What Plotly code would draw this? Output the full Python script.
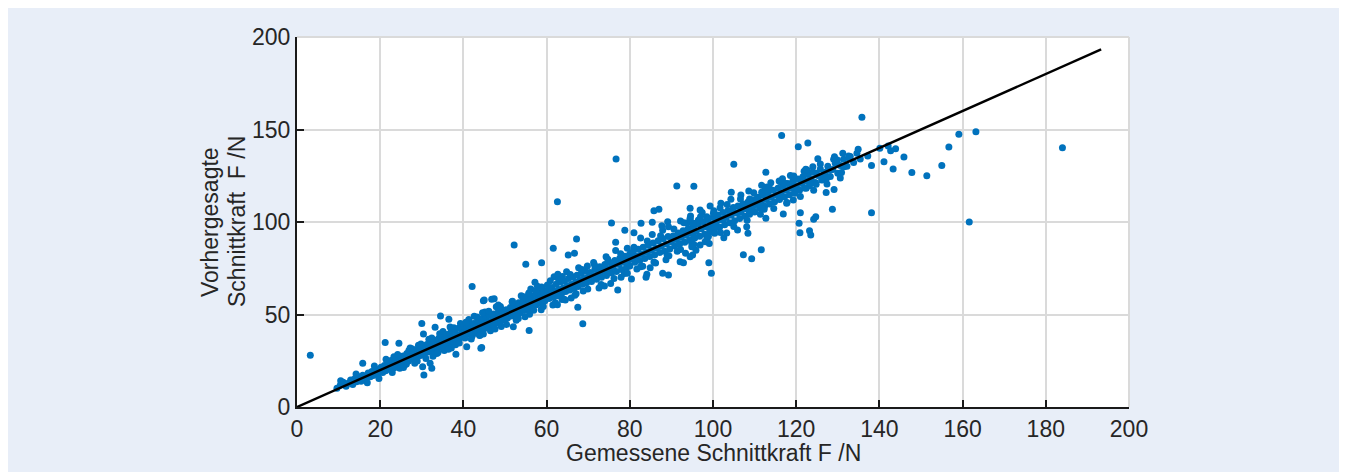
import plotly.graph_objects as go

# ---------------- data ----------------
core_points = [
    (9.6,10.2),(10.4,11.8),(11.1,13.4),(11.8,11.2),(12.3,12.9),(12.9,14.6),(13.4,12.1),(13.8,15.2),(14.3,13.6),(14.9,16.3),(15.4,13.9),(15.8,17.1),(16.2,15.4),(16.7,16.2),(17.1,18.4),(17.6,16.3),(18.0,19.2),(18.3,17.0),(18.8,18.6),(19.2,20.3),(19.5,17.8),(19.9,19.4),(20.2,21.5),(20.6,18.7),(17.3,17.7),(15.1,14.8),(13.1,13.4),(11.5,12.2),
    (21.0,22.4),(21.3,19.6),(21.7,21.1),(22.1,23.6),(22.4,20.3),(22.8,22.7),(23.1,24.6),(23.4,21.2),(23.7,25.3),(24.0,22.6),(24.3,24.1),(24.6,26.4),(24.9,23.0),(25.2,25.7),(25.5,27.6),(25.8,24.1),(26.1,26.3),(26.4,28.9),(26.8,24.9),(27.1,27.4),(27.4,29.3),(27.8,25.8),(28.1,28.2),(28.4,30.9),(28.7,26.7),(29.1,29.3),(29.4,31.8),(29.7,27.9),(30.0,30.1),(22.6,25.1),(26.9,30.6),(28.9,24.8),(24.7,20.9),(25.9,22.7),(27.6,31.5),(23.3,27.2),(29.2,33.4),(21.8,24.6),(26.3,23.3),
    (30.3,32.6),(30.6,28.3),(30.9,31.1),(31.2,33.8),(31.5,29.7),(31.9,31.9),(32.2,34.9),(32.5,30.4),(32.8,32.8),(33.1,36.1),(33.4,31.2),(33.8,33.6),(34.1,37.2),(34.4,32.3),(34.7,34.9),(35.0,38.3),(35.3,33.1),(35.7,35.6),(36.0,39.2),(36.3,33.8),(36.6,36.7),(36.9,40.1),(37.3,35.2),(37.6,37.5),(37.9,41.4),(38.2,36.3),(38.5,38.4),(38.8,42.6),(39.1,37.1),(39.5,39.6),(39.8,43.2),(31.7,36.6),(33.6,28.9),(35.4,30.6),(36.8,43.3),(34.3,39.6),(38.1,33.7),(32.7,27.4),(39.3,45.1),(37.1,31.9),
    (40.1,40.2),(40.4,37.3),(40.8,42.8),(41.1,39.6),(41.4,44.1),(41.8,41.3),(42.1,38.4),(42.4,45.2),(42.8,42.2),(43.1,39.8),(43.4,46.3),(43.7,43.5),(44.1,41.0),(44.4,47.4),(44.7,44.6),(45.0,42.3),(45.4,48.2),(45.7,45.7),(46.0,43.4),(46.3,49.6),(46.7,46.4),(47.0,44.2),(47.3,50.3),(47.7,47.7),(48.0,45.3),(48.3,51.1),(48.7,48.6),(49.0,46.4),(49.3,52.4),(49.7,49.5),(50.0,47.3),(42.6,49.1),(45.2,51.4),(47.9,54.2),(43.9,38.6),(46.5,41.2),(49.1,43.5),(41.3,47.3),(48.4,55.1),(44.6,50.9),
    (50.3,52.6),(50.6,48.1),(51.0,50.7),(51.3,53.8),(51.6,49.2),(52.0,51.9),(52.3,55.1),(52.6,50.3),(53.0,53.2),(53.3,56.4),(53.6,51.0),(54.0,54.1),(54.3,57.3),(54.6,52.2),(55.0,55.3),(55.3,58.6),(55.6,53.1),(56.0,56.4),(56.3,59.2),(56.6,54.2),(57.0,57.5),(57.3,60.8),(57.6,55.3),(58.0,58.3),(58.3,61.7),(58.6,56.1),(59.0,59.5),(59.3,62.8),(59.6,57.4),(60.0,60.3),(51.8,57.1),(54.8,48.8),(56.9,52.3),(58.8,64.9),(53.9,60.2),(57.8,65.3),(55.7,61.4),(59.2,54.3),(52.7,46.9),(56.2,63.8),
    (60.3,62.9),(60.6,58.6),(61.0,61.2),(61.3,64.6),(61.6,59.3),(62.0,62.4),(62.3,66.3),(62.6,60.1),(63.0,63.5),(63.3,67.6),(63.6,61.2),(64.0,64.3),(64.3,68.1),(64.6,62.4),(65.0,65.6),(65.3,69.4),(65.6,63.3),(66.0,66.2),(66.3,70.3),(66.6,64.1),(67.0,67.5),(67.3,71.2),(67.6,65.2),(68.0,68.4),(68.3,72.1),(68.6,66.3),(69.0,69.2),(69.3,73.4),(69.6,67.1),(70.0,70.2),(61.8,70.4),(62.7,71.8),(63.8,70.6),(60.9,68.3),(64.8,73.1),(66.8,60.4),(68.8,62.7),(65.9,58.9),(69.8,76.2),(67.7,75.3),(62.1,56.4),(63.7,58.1),
    (70.4,72.7),(70.8,67.8),(71.2,71.0),(71.6,74.5),(72.0,69.1),(72.4,72.3),(72.8,75.8),(73.2,70.2),(73.6,73.4),(74.0,77.0),(74.4,71.1),(74.8,74.6),(75.2,78.1),(75.6,72.4),(76.0,75.9),(76.4,79.2),(76.8,73.3),(77.2,77.1),(77.6,80.4),(78.0,74.3),(78.4,78.2),(78.8,81.5),(79.2,75.4),(79.6,79.3),(80.0,82.7),(71.3,78.1),(73.9,65.4),(75.4,66.8),(77.9,70.1),(79.4,85.8),(74.3,81.2),(72.6,64.3),(76.6,84.6),(78.7,72.2),(80.0,76.2),
    (80.4,80.1),(80.8,84.0),(81.2,78.3),(81.6,81.5),(82.0,85.3),(82.4,79.2),(82.8,82.6),(83.2,86.4),(83.6,80.3),(84.0,83.7),(84.4,87.5),(84.8,81.4),(85.2,84.8),(85.6,88.7),(86.0,82.3),(86.4,85.9),(86.8,89.8),(87.2,83.5),(87.6,87.0),(88.0,90.9),(88.4,84.2),(88.8,88.1),(89.2,92.1),(89.6,85.4),(90.0,89.3),(81.7,74.6),(83.1,76.1),(84.9,75.3),(86.2,77.9),(88.7,79.6),(82.6,91.3),(85.4,93.2),(87.9,95.6),(89.4,81.8),(84.1,71.8),
    (90.4,92.5),(90.8,87.0),(91.2,90.6),(91.6,94.1),(92.0,88.2),(92.4,91.7),(92.8,95.3),(93.2,89.1),(93.6,92.8),(94.0,96.4),(94.4,90.3),(94.8,94.0),(95.2,97.6),(95.6,91.4),(96.0,95.2),(96.4,98.9),(96.8,92.3),(97.2,96.3),(97.6,100.1),(98.0,93.4),(98.4,97.5),(98.8,101.2),(99.2,94.6),(99.6,98.6),(100.0,102.4),(91.4,84.2),(93.4,83.1),(96.9,87.6),(98.1,89.3),(92.2,100.6),(94.6,103.2),(97.4,105.1),(99.1,88.4),(95.9,84.7),
    (100.4,96.2),(100.8,100.4),(101.2,103.8),(101.6,97.3),(102.0,101.5),(102.4,105.1),(102.8,98.5),(103.2,102.6),(103.6,106.2),(104.0,99.6),(104.4,103.7),(104.8,107.4),(105.2,100.7),(105.6,104.8),(106.0,108.6),(106.4,101.9),(106.8,106.0),(107.2,109.7),(107.6,103.1),(108.0,107.2),(108.4,110.8),(108.8,104.2),(109.2,108.3),(109.6,112.0),(110.0,105.4),(101.9,110.2),(104.3,112.3),(106.7,114.6),(103.3,94.1),(105.9,95.7),(108.1,97.4),
    (110.4,109.6),(110.8,113.2),(111.2,107.4),(111.6,111.0),(112.0,114.6),(112.4,108.5),(112.8,112.2),(113.2,115.8),(113.6,109.7),(114.0,113.4),(114.4,117.1),(114.8,111.0),(115.2,114.7),(115.6,118.3),(116.0,112.2),(116.4,116.0),(116.8,119.6),(117.2,113.5),(117.6,117.1),(118.0,120.8),(118.4,114.7),(118.8,118.4),(119.2,122.1),(119.6,115.9),(120.0,119.6),(120.4,123.2),(120.8,117.1),(121.2,121.0),(121.6,124.5),(122.0,118.4),(122.4,122.2),(122.8,125.7),(123.2,119.6),(123.6,123.4),(124.0,127.0),(124.6,121.3),(125.2,125.1),(125.8,128.6),(126.4,122.8),(127.0,126.9),(127.6,130.2),(128.2,124.6),(128.8,128.4),(129.4,131.8),(130.0,126.3),(130.6,130.6),(131.4,133.9),(132.2,130.2),(133.0,135.4),(133.8,132.1),(134.6,137.1),(135.4,134.0),(113.9,121.2),(116.7,123.4),(118.6,125.2),(111.7,119.8),(121.9,127.4),
]

band_points = [
    (14.2,17.8),(16.9,13.1),(18.6,22.1),(19.7,15.4),(21.4,25.8),(22.9,18.6),(24.2,28.4),(25.6,21.3),(27.2,31.9),(28.3,23.6),(29.8,34.1),(31.0,26.2),(32.4,37.3),(33.9,29.4),(35.1,40.8),(36.4,31.2),(37.7,42.9),(39.0,34.6),(40.6,45.8),(41.9,36.7),(43.3,48.6),(44.8,39.5),(46.1,51.8),(47.6,42.1),(48.9,54.3),(50.4,44.6),(51.7,56.9),(53.2,47.8),(54.5,59.6),(55.9,50.2),(57.4,62.8),(58.7,52.6),(60.2,65.9),(61.5,55.2),(62.9,68.7),(64.2,58.3),(65.7,71.6),(67.1,61.2),(68.5,74.3),(69.9,63.8),(71.5,76.9),(73.1,66.2),(74.7,79.8),(76.2,69.4),(77.8,82.9),(79.4,72.3),(81.0,86.4),(82.6,75.8),(84.2,89.7),(85.8,78.4),(87.4,92.6),(89.0,81.9),(90.6,96.2),(92.2,85.1),(93.8,99.4),(95.4,87.9),(97.0,102.8),(98.6,91.2),(100.2,106.1),(101.8,94.3),(103.4,109.4),(105.0,97.6),(106.6,112.5),(108.2,100.9),(109.8,115.8),(111.4,104.2),(113.0,118.9),(114.6,107.3),(116.2,121.7),(117.8,110.6),(119.4,124.9),(121.0,113.8),(122.6,128.1),(124.2,117.2),(125.8,131.3),(127.4,120.6),(129.0,133.9),(130.6,123.8),
    (20.9,20.6),(22.2,22.0),(23.6,23.4),(25.0,24.4),(26.5,26.8),(27.9,27.6),(29.3,29.0),(30.8,30.4),(32.1,32.0),(33.5,33.1),(34.9,35.4),(36.2,36.0),(37.4,37.9),(38.7,38.9),(40.0,40.1),(41.6,41.9),(43.0,43.2),(44.3,44.5),(45.9,45.6),(47.2,47.3),(48.6,48.9),(50.1,50.0),(51.5,51.6),(52.9,52.7),(54.4,54.6),(55.8,55.9),(57.2,57.0),(58.5,58.8),(59.9,60.1),(61.4,61.2),(62.8,62.9),(64.1,64.2),(65.5,65.4),(66.9,67.0),(68.2,68.3),(69.5,69.6),(71.0,71.1),(72.5,72.6),(74.1,74.0),(75.7,75.8),(77.4,77.3),(79.0,79.1),(80.6,80.5),
]

spread_points = [
    (3.2,28.0),(184.0,140.1),(161.6,100.0),(163.2,148.8),(159.1,147.4),(156.7,140.5),(155.0,130.6),(151.4,125.0),(147.8,126.7),(145.9,135.1),(143.3,128.6),(141.1,132.6),(143.9,139.6),(142.7,138.5),(142.1,141.1),(140.1,139.8),
    (116.5,146.7),(120.5,140.7),(122.8,142.7),(105.0,131.2),(112.7,126.9),(95.4,119.3),(134.9,139.3),(131.2,137.1),(132.6,135.7),(129.9,133.5),(131.5,129.9),(130.9,126.7),(125.2,134.2),(124.0,129.9),(122.3,128.5),(124.8,126.3),(126.5,125.4),(127.3,123.6),(126.1,122.7),(128.1,128.1),(138.1,130.6),(137.2,135.7),(129.1,117.6),(127.2,116.0),(128.7,106.9),(138.1,105.0),(121.0,105.0),(120.7,99.3),(120.9,94.2),(123.2,95.3),(123.5,93.0),(124.2,101.5),(124.7,102.9),(115.9,122.2),(117.3,120.9),(118.5,120.0),(113.7,117.8),(115.9,113.4),(117.7,110.1),(119.3,111.9),(119.7,115.5),(120.1,118.2),(121.4,120.9),(122.4,118.2),(123.3,120.9),(124.8,120.4),(116.9,104.3),(112.7,102.0),(108.6,116.8),(108.8,112.4),(110.7,113.4),(111.7,116.1),(112.5,117.3),(108.5,110.1),(107.3,107.4),(109.7,108.6),(110.5,111.0),(111.5,109.2),(112.3,106.9),(108.7,105.6),(106.5,105.6),(104.9,107.9),(104.1,104.7),(102.5,101.1),(104.4,116.1),(101.7,107.7),(99.3,108.6),(96.9,106.5),(96.5,101.1),(95.3,97.5),(94.5,101.1),(98.5,102.9),(100.1,104.7),(101.3,101.1),(100.9,97.5),(99.3,95.7),(100.4,93.9),(98.9,92.1),(102.6,91.5),(108.4,93.9),(111.6,85.0),(107.3,82.3),(109.3,80.2),(99.6,72.3),(99.0,78.0),(95.1,82.2),(94.9,88.5),(95.3,93.0),
    (62.6,111.0),(52.2,87.6),(55.0,77.1),(58.8,78.0),(61.6,85.8),(67.2,90.8),(65.2,82.2),(66.7,83.1),(75.6,99.5),(78.8,95.5),(81.0,94.2),(82.7,99.3),(85.4,99.8),(85.8,106.1),(87.0,106.9),(89.1,100.2),(89.3,97.5),(87.7,98.0),(94.5,107.4),(94.5,102.0),(93.0,99.6),(95.3,99.3),(76.6,89.0),(80.4,69.2),(77.1,63.2),(83.9,70.1),(87.9,72.3),(89.3,71.4),(92.1,78.5),(92.9,78.0),(94.5,81.2),(94.9,86.6),(67.5,53.9),(68.7,45.0),(55.8,41.4),(62.6,55.3),(57.2,67.4),(47.4,58.5),(45.0,57.8),(44.4,32.1),(44.0,38.9),(52.0,43.4),
    (76.7,134.1),(135.8,156.6),(91.3,119.5),(129.2,135.3),(132.8,134.4),
    (15.8,23.6),(21.2,34.8),(24.5,34.4),(30.0,45.2),(30.4,39.5),(33.2,43.1),(34.5,49.2),(36.5,47.4),(44.8,57.5),(46.8,58.2),(44.2,31.7),(38.2,28.5),(30.5,17.3),(30.2,21.8),(32.0,23.6),(32.4,20.9),(40.8,32.6),(10.5,14.2),
    (42.1,65.2),(64.5,57.8),(55.8,61.8),
]

all_points = core_points + band_points + spread_points
measured = [p[0] for p in all_points]
predicted = [p[1] for p in all_points]

ideal_x = [0, 193.3]
ideal_y = [0, 193.3]

x_ticks = [0, 20, 40, 60, 80, 100, 120, 140, 160, 180, 200]
y_ticks = [0, 50, 100, 150, 200]

x_title = "Gemessene Schnittkraft F /N"
y_title_lines = ["Vorhergesagte", "Schnittkraft  F /N"]

# ---------------- figure ----------------
FONT = "Liberation Sans, Arial, sans-serif"
TXT = "#262626"
GRID = "#dadada"
PANEL = "#e8eef8"
FS = 23

# the page adds an 8 px body margin; figure coords = page coords - 8
W, H = 1331, 464
L, T = 289, 29
PR, PB = 1121, 399          # plot right / bottom in figure px
R, B = W - PR, H - PB
pw, ph = PR - L, PB - T

def px_x(p):
    return (p - L) / pw

def px_y(p):
    return (PB - p) / ph

fig = go.Figure()
fig.add_trace(go.Scatter(
    x=measured, y=predicted, mode="markers",
    marker=dict(color="#0072BD", size=7, line=dict(width=0)),
    showlegend=False, hoverinfo="skip"))
fig.add_trace(go.Scatter(
    x=ideal_x, y=ideal_y, mode="lines",
    line=dict(color="black", width=2.5),
    showlegend=False, hoverinfo="skip"))

shapes = [
    dict(type="rect", xref="paper", yref="paper", layer="below",
         x0=0, x1=1, y0=0, y1=1, fillcolor="white", line=dict(width=0)),
    dict(type="line", xref="paper", yref="paper", layer="below",
         x0=0, x1=1, y0=1, y1=1, line=dict(color=GRID, width=2)),
    dict(type="line", xref="paper", yref="paper", layer="below",
         x0=1, x1=1, y0=0, y1=1, line=dict(color=GRID, width=2)),
]

annotations = [
    dict(text=x_title, xref="paper", yref="paper", x=0.5, y=px_y(445),
         xanchor="center", yanchor="middle", showarrow=False,
         font=dict(family=FONT, size=FS, color=TXT)),
    dict(text=y_title_lines[0], xref="paper", yref="paper", x=px_x(202), y=0.5,
         xanchor="center", yanchor="middle", showarrow=False, textangle=-90,
         font=dict(family=FONT, size=FS, color=TXT)),
    dict(text=y_title_lines[1], xref="paper", yref="paper", x=px_x(229), y=0.5,
         xanchor="center", yanchor="middle", showarrow=False, textangle=-90,
         font=dict(family=FONT, size=FS, color=TXT)),
]

axis_common = dict(
    range=[0, 200], showgrid=True, gridcolor=GRID, gridwidth=2, zeroline=False,
    showline=True, linecolor="#1a1a1a", linewidth=2.2,
    ticks="inside", ticklen=7, tickwidth=2, tickcolor="#1a1a1a",
    tickfont=dict(family=FONT, size=FS, color=TXT), fixedrange=True,
)

fig.update_layout(
    width=W, height=H,
    margin=dict(l=L, r=R, t=T, b=B, pad=0),
    paper_bgcolor=PANEL, plot_bgcolor="white",
    font=dict(family=FONT, size=FS, color=TXT),
    shapes=shapes, annotations=annotations,
    xaxis=dict(axis_common, tickvals=x_ticks, ticktext=[str(v) for v in x_ticks]),
    yaxis=dict(axis_common, tickvals=y_ticks, ticktext=[str(v) for v in y_ticks]),
)

fig.write_html("out.html")
